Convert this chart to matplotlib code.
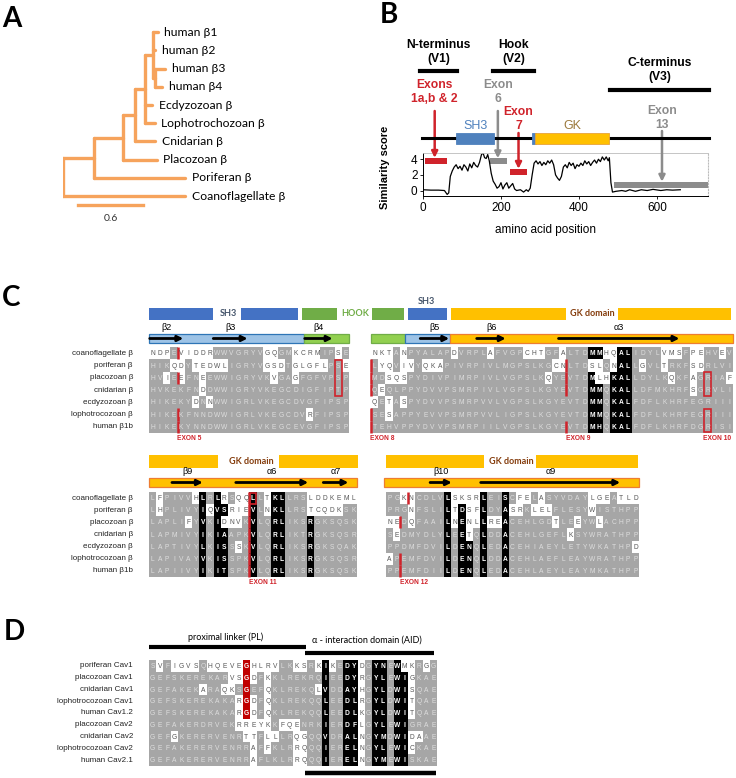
import numpy as np
import matplotlib
matplotlib.use("Agg")
import matplotlib.pyplot as plt
from matplotlib.patches import Rectangle
from matplotlib.colors import ListedColormap

W, H = 736, 778
SANS = ["Liberation Sans", "DejaVu Sans"]
CALI = ["Lato", "DejaVu Sans"]
RED = "#D0232B"
GRAYTXT = "#8C8C8C"

# ---------------- panel A : tree ----------------
TREE_NAMES = ["", "", "", "", "", "", "",
              "human β1", "human β2", "human β3", "human β4",
              "Ecdyzozoan β", "Lophotrochozoan β", "Cnidarian β",
              "Placozoan β", "Poriferan β", "Coanoflagellate β"]
TREE_PARENT = [-1, 0, 1, 2, 3, 4, 5, 5, 5, 6, 6, 4, 4, 3, 2, 1, 0]
TREE_LENGTH = [0, 0.29, 0.27, 0.11, 0.09, 0.075, 0.02, 0.04, 0.02, 0.09,
               0.065, 0.065, 0.09, 0.185, 0.31, 0.84, 1.13]
SCALE_BAR = 0.6

# ---------------- panel B : similarity ----------------
SIM_POS = [0, 20, 40, 55, 62, 66, 70, 75, 80, 85, 90, 95, 100, 105, 110, 115,
           120, 125, 130, 135, 140, 145, 150, 154, 158, 162, 166, 170, 175, 180,
           185, 190, 195, 200, 205, 210, 215, 220, 225, 230, 235, 240, 250, 258,
           265, 270, 275, 280, 285, 290, 295, 300, 305, 310, 315, 320, 325, 330,
           335, 340, 345, 350, 355, 360, 365, 370, 375, 380, 385, 390, 395, 400,
           405, 410, 415, 420, 425, 430, 435, 440, 445, 450, 455, 460, 465, 470,
           475, 478, 482, 486, 495, 510, 520, 530, 545, 560, 575, 590, 610, 625,
           640, 660]
SIM_SCORE = [0.1, 0.05, 0.05, 0.0, -0.5, -0.3, 1.8, 2.5, 3.0, 3.3, 2.8, 3.1, 2.6, 3.3, 3.0, 2.5,
             3.4, 2.9, 3.6, 3.2, 3.0, 3.6, 4.6, 4.8, 4.2, 4.1, 4.6, 3.8, 2.2, 1.2,
             0.8, 0.3, 0.5, 1.0, 0.2, 0.7, 1.0, 0.3, 0.6, 0.9, 0.2, 0.0, 0.1, -0.2,
             0.1, -0.1, 0.3, 2.0, 3.5, 3.8, 3.4, 3.7, 3.2, 3.6, 3.3, 3.8, 3.5, 3.9,
             3.3, 2.0, 1.6, 1.3, 1.8, 3.0, 3.3, 2.9, 3.6, 3.2, 3.5, 2.8, 3.3, 3.1,
             3.5, 3.2, 3.8, 3.4, 3.7, 3.2, 3.6, 3.9, 3.5, 4.0, 3.7, 4.3, 3.9, 4.3,
             3.8, 4.2, 1.0, -0.2, -0.1, 0.0, -0.1, 0.1, -0.1, 0.1, 0.0, 0.15, 0.0, 0.1,
             0.05, 0.1]
PROTEIN_END = 733
DOMAIN_NAMES = ["SH3", "", "GK"]
DOMAIN_START = [85, 279, 288]
DOMAIN_END = [182, 290, 478]
DOMAIN_COLORS = ["#4F81BD", "#4F81BD", "#FFC000"]
REGION_LABELS = ["N-terminus\n(V1)", "Hook\n(V2)", "C-terminus\n(V3)"]
REGION_START = [-8, 179, 480]
REGION_END = [87, 285, 733]
EXON_LABELS = ["Exons\n1a,b & 2", "Exon\n6", "Exon\n7", "Exon\n13"]
EXON_START = [4, 173, 222, 491]
EXON_END = [62, 215, 267, 731]
EXON_LEVEL = [3.8, 3.75, 2.4, 0.75]
EXON_ARROW = [30, 192, 245, 613]
EXON_COLORS = [RED, GRAYTXT, RED, GRAYTXT]

# ---------------- panel C : beta alignments ----------------
BETA_NAMES = ["coanoflagellate β", "poriferan β", "placozoan β", "cnidarian β",
              "ecdyzozoan β", "lophotrocozoan β", "human β1b"]

C1_SEQS = ["NDPEVIDDRWWVGRYVGQGMKCRMIPSE",
           "HIKQDYTEDWLIGRYVGSDTGLGFLPSE",
           "HVIEEFNEEWWIGRYVKVGAGFGFVPSP",
           "HVKEKFNDDWWIGRYVKEGCDIGFIPTP",
           "HIKEKYDNNWWIGRLVKEGCDVGFIPSP",
           "HIKEKFNNDWWIGRLVKEGCDVRFIPSP",
           "HIKEKYNNDWWIGRLVKEGCEVGFIPSP"]
C1_WHITE = [[0, 1, 2, 4, 5, 6, 7, 8, 16, 17, 20, 21, 22, 23, 26],
            [3, 4, 6, 7, 8, 9, 10, 16, 17, 18, 20, 21, 22, 23, 24, 27],
            [2, 4, 7, 17, 20], [7], [6, 8], [22], []]
C1_BLACK = [[], [], [], [], [], [], []]

C2_SEQS = ["NKTANPYALAPDVRPLAFVGPCHTGFALTDMMHQALIDYLVMSFPEHVEV",
           "LYQVIVYQKAPIVRPIVLMGPSLKGCNLTDSLQNALLGVLTRKFSDRLVI",
           "MDSQSPYDIVPIMRPIVLVGPSLKQYEVTDMLHKALLDYLKQKFAGRIAF",
           "QEQLPPYDVVPSMRPIVLVGPSLKGYEVTDMMQKALLDFMKHRFSGRVLI",
           "QETASPYDVVPSMRPVVLVGPSLKGYEVTDMMQKALFDFLKHRFEGRIII",
           "SESAPPYEVVPSMRPVVLIGPSLKGYEVTDMMQKALFDFLKHRFEGRIII",
           "TEHVPPYDVVPSMRPIILVGPSLKGYEVTDMHQKALFDFLKHRFDGRISI"]
C2_WHITE = [[0, 1, 2, 4, 11, 16, 21, 22, 23, 26, 32, 33, 40, 41, 42, 44, 45, 48],
            [1, 2, 4, 5, 7, 8, 9, 25, 26, 30, 31, 33, 37, 40, 44, 45],
            [2, 3, 4, 24, 31, 32, 41, 44, 49], [1, 44], [0, 2, 4], [2], []]
C2_BLACK = [[30, 31, 34, 35], [34, 35], [30, 33, 34, 35], [30, 31, 33, 34, 35],
            [30, 31, 33, 34, 35], [30, 31, 33, 34, 35], [30, 31, 33, 34, 35]]

C3_SEQS = ["LFPIVVHLRLRSQQLLTKLLRSLDDKEML",
           "LHPLIVYIQVSRIEVLNKLLRSTCQDKSK",
           "LAPLIFYVKIDNVKVLQRLIKSRGKSQSK",
           "LAPMIVYIKIAAPKVLQRLIKTRGKSQSR",
           "LAPTIVYLKISSSKVLQRLIKSRGKSQAK",
           "LAPIVAYVKISSPKVLQRLIKSRGKSQSR",
           "LAPIIVYIKITSPKVLQRLIKSRGKSQSK"]
C3_WHITE = [[1, 6, 10, 12, 13, 16, 22, 23, 24, 25, 26, 27, 28],
            [1, 8, 11, 12, 13, 16, 22, 23, 24, 25, 26],
            [5, 10, 11, 12], [], [12], [], []]
C3_BLACK = [[7, 9, 14, 17, 18], [7, 9, 10, 14, 17, 18], [7, 9, 14, 17, 18, 22],
            [7, 9, 10, 14, 17, 18, 22], [7, 9, 10, 14, 17, 18, 22],
            [7, 9, 10, 14, 17, 18, 22], [7, 9, 10, 14, 17, 18, 22]]

C4_SEQS = ["PGKNCDLVLSKSRLEISCFELASYVDAYLGEATLD",
           "PRGNFSLILTDSFLDYASRKLELFLESYWISTHPP",
           "NEDQFAAILNENLLREACEHLGDTLEEYWLACHPP",
           "SEDMYDLYLEETQLDDACEHLGEFLKSYWRATHPP",
           "PPDMFDVILDENQLEDACEHIAEYLETYWKATHPD",
           "APEMFDVILDENQLDDACEHLAEFLEAYWRATHPP",
           "PPEMFDIILDENQLEDACEHLAEYLEAYMKATHPP"]
C4_WHITE = [[2, 3, 9, 10, 11, 12, 18, 19, 21, 28, 29, 30, 32, 33, 34],
            [3, 9, 11, 12, 17, 18, 20, 21, 22, 28],
            [0, 1, 3, 9, 11, 12, 14, 15, 23, 26, 29], [1, 11, 25], [34], [0], []]
C4_BLACK = [[8, 13, 16], [8, 10, 13, 16], [8, 10, 13, 16], [8, 10, 13, 16],
            [8, 10, 11, 13, 16], [8, 10, 11, 13, 16], [8, 10, 11, 13, 16]]

# ---------------- panel D : Cav alignment ----------------
CAV_NAMES = ["poriferan Cav1", "placozoan Cav1", "cnidarian Cav1",
             "lophotrocozoan Cav1", "human Cav1.2", "placozoan Cav2",
             "cnidarian Cav2", "lophotrocozoan Cav2", "human Cav2.1"]
D_SEQS = ["SVFIGVSQHQEVEGHLRVLKKSRKIKEDYDGYNEWMKRGG",
          "GEFSKEREKARVSGDFKKLREKRQIEEDYRGYLEWIGKAE",
          "GEFAKEKARAQKSGEFQKLREKQLVDDAYHGYLDWISQAE",
          "GEFSKEREKAKARGDFQKLREKQQLEEDLRGYLDWITQAE",
          "GEFSKEREKAKARGDFQKLREKQQLEEDLKGYLDWITQAE",
          "GEFAKERDRVEKRREYKKFQENRKIERDFLGYLEWIGRAE",
          "GEFGKERERVENRTTFLLLRQGQQVDRALNGYMDWIDAAE",
          "GEFAKERERVENRRAFFKLRRQQQIERELNGYLEWICKAE",
          "GEFAKERERVENRRAFLKLRRQQQIERELNGYMEWISKAE"]
D_WHITE = [[1, 3, 4, 5, 6, 8, 9, 10, 11, 12, 14, 15, 16, 17, 20, 21, 23, 25, 29, 35, 36, 38],
           [11, 12, 14, 16, 29, 36],
           [7, 10, 11, 16, 23, 29, 36],
           [12, 14, 16, 29, 36],
           [12, 14, 16, 29, 36],
           [12, 13, 14, 15, 16, 18, 19, 20, 29],
           [3, 13, 14, 16, 17, 20, 21, 29, 36, 37],
           [14, 16, 20, 21, 29, 36],
           [14, 20, 21, 29]]
D_BLACK = [[24, 27, 28, 31, 32, 34]] + [[24, 27, 28, 31, 32, 34, 35]] * 8
D_RED = [(13, 0, 4)]

CELL_CMAP = ListedColormap(["white", "#A6A6A6", "black", "#C00000"])
TXT_COL = {0: "#555555", 1: "#DEDEDE", 2: "white", 3: "white"}

fig = plt.figure(figsize=(W / 100, H / 100), dpi=100)


def px_axes(x0, y0, x1, y1):
    return fig.add_axes([x0 / W, 1 - y1 / H, (x1 - x0) / W, (y1 - y0) / H])


def panel_letter(x, y, s):
    fig.text(x / W, 1 - y / H, s, fontsize=20, fontweight="bold",
             family=CALI, ha="left", va="center")


# ---- A ----
panel_letter(2, 19, "A")
ax_a = px_axes(63, 23, 225, 229)
ax_a.set_xlim(0, 1.5)
ax_a.set_ylim(10.8, -0.5)
ax_a.axis("off")
n = len(TREE_NAMES)
nx = np.zeros(n)
ny = np.zeros(n)
children = {i: [] for i in range(n)}
for i in range(1, n):
    nx[i] = nx[TREE_PARENT[i]] + TREE_LENGTH[i]
    children[TREE_PARENT[i]].append(i)
tips = [i for i in range(n) if not children[i]]
for k, t in enumerate(tips):
    ny[t] = k
for i in reversed(range(n)):
    if children[i]:
        ys = [ny[c] for c in children[i]]
        ny[i] = (min(ys) + max(ys)) / 2
tree_col = "#F6A35C"
for i in range(n):
    if i > 0:
        ax_a.plot([nx[TREE_PARENT[i]], nx[i]], [ny[i], ny[i]], color=tree_col,
                  lw=2.4, solid_capstyle="round")
    if children[i]:
        ys = [ny[c] for c in children[i]]
        ax_a.plot([nx[i], nx[i]], [min(ys), max(ys)], color=tree_col, lw=2.4,
                  solid_capstyle="round")
for t in tips:
    ax_a.text(nx[t] + 0.06, ny[t], TREE_NAMES[t], fontsize=8.7, family=CALI,
              va="center", ha="left")
ax_a.plot([0.14, 0.14 + SCALE_BAR], [9.5, 9.5], color=tree_col, lw=2.4)
ax_a.text(0.14 + SCALE_BAR / 2, 10.2, f"{SCALE_BAR}", fontsize=7.5, family=CALI,
          ha="center", va="center", color="#333333")

# ---- B ----
panel_letter(380, 15, "B")
ax_b = px_axes(423, 153, 708, 196)
ax_b.plot(SIM_POS, SIM_SCORE, color="black", lw=0.9)
ax_b.set_xlim(0, 731)
ax_b.set_ylim(-0.7, 4.8)
ax_b.set_xticks([0, 200, 400, 600])
ax_b.set_yticks([0, 2, 4])
ax_b.tick_params(labelsize=8.5, length=2, width=0.6, pad=2)
for lab in ax_b.get_xticklabels() + ax_b.get_yticklabels():
    lab.set_family(SANS)
ax_b.spines["top"].set_color("#BBBBBB")
ax_b.spines["top"].set_linewidth(0.6)
ax_b.spines["right"].set_color("#BBBBBB")
ax_b.spines["right"].set_linestyle(":")
ax_b.spines["left"].set_linewidth(0.7)
ax_b.spines["bottom"].set_linewidth(0.7)
tb = ax_b.get_xaxis_transform()


def fy(py):
    return (196 - py) / 43


for s, e, lv, c in zip(EXON_START, EXON_END, EXON_LEVEL, EXON_COLORS):
    ax_b.barh(lv, e - s, left=s, height=0.75, color=c)
label_y = [92, 92, 119, 118]
arrow_from = [111, 111, 133, 131]
for lab, ax_x, lv, c, ly, af in zip(EXON_LABELS, EXON_ARROW, EXON_LEVEL,
                                    EXON_COLORS, label_y, arrow_from):
    ax_b.annotate("", xy=(ax_x, lv + 0.38), xycoords="data", xytext=(ax_x, fy(af)),
                  textcoords=tb, annotation_clip=False,
                  arrowprops=dict(arrowstyle="-|>", color=c, lw=1.8,
                                  mutation_scale=9, shrinkA=0, shrinkB=0))
    ax_b.text(ax_x, fy(ly), lab, transform=tb, ha="center", va="center",
              color=c, fontsize=8.7, fontweight="bold", family=SANS,
              linespacing=1.15)
ax_b.plot([-3, PROTEIN_END], [fy(138)] * 2, transform=tb, clip_on=False,
          color="black", lw=2.2, zorder=3)
for name, s, e, c in zip(DOMAIN_NAMES, DOMAIN_START, DOMAIN_END, DOMAIN_COLORS):
    ax_b.add_patch(Rectangle((s, fy(144)), e - s, fy(133) - fy(144), transform=tb,
                             clip_on=False, facecolor=c,
                             edgecolor="#E8A33A" if c == "#FFC000" else c,
                             lw=0.6, zorder=4))
    if name:
        ax_b.text((s + e) / 2, fy(126), name, transform=tb, ha="center", va="center",
                  fontsize=9, family=SANS,
                  color="#4F81BD" if name == "SH3" else "#9C7A3C")
region_y = [52, 52, 70]
bar_y = [71, 71, 90]
for lab, s, e, ly, by in zip(REGION_LABELS, REGION_START, REGION_END, region_y, bar_y):
    ax_b.plot([s, e], [fy(by)] * 2, transform=tb, clip_on=False, color="black", lw=3)
    ax_b.text((s + e) / 2, fy(ly), lab, transform=tb, ha="center", va="center",
              fontsize=8.7, fontweight="bold", family=SANS, linespacing=1.25)
ax_b.text(0.43, fy(230), "amino acid position", transform=ax_b.transAxes,
          ha="center", va="center", fontsize=8.5, family=SANS)
ax_b.text(-0.133, 0.67, "Similarity score", transform=ax_b.transAxes, rotation=90,
          ha="center", va="center", fontsize=8, fontweight="bold", family=SANS)


# ---- alignment helper ----
def align_block(box, names, seqs, whites, blacks, reds=()):
    x0, y0, x1, y1 = box
    nrow, ncol = len(seqs), len(seqs[0])
    ax = px_axes(x0, y0, x1, y1)
    ax.set_xlim(0, ncol)
    ax.set_ylim(nrow, 0)
    ax.axis("off")
    code = np.ones((nrow, ncol))
    for r in range(nrow):
        code[r, whites[r]] = 0
        code[r, blacks[r]] = 2
    for c, r0, r1 in reds:
        code[r0:r1 + 1, c] = 3
    ax.pcolormesh(np.arange(ncol + 1), np.arange(nrow + 1), code, cmap=CELL_CMAP,
                  vmin=-0.5, vmax=3.5)
    for r, s in enumerate(seqs):
        for c, ch in enumerate(s):
            k = int(code[r, c])
            ax.text(c + 0.5, r + 0.55, ch, ha="center", va="center", fontsize=4.8,
                    family=SANS, color=TXT_COL[k],
                    fontweight="bold" if k >= 2 else "normal")
    cw = (x1 - x0) / ncol
    rh = (y1 - y0) / nrow
    if names:
        for r, nm in enumerate(names):
            ax.text((133 - x0) / cw, r + 0.5, nm, ha="right", va="center",
                    fontsize=5.8, family=SANS, color="#222222", clip_on=False)

    def ry(py):
        return (py - y0) / rh
    return ax, ry


def header(ax, ry, dom_y, doms, dom_txt, ss_y, ss_bars, ss_arrows):
    for s, e, c in doms:
        ax.add_patch(Rectangle((s, ry(dom_y[0])), e - s, ry(dom_y[1]) - ry(dom_y[0]),
                               facecolor=c, edgecolor="none", clip_on=False))
    for lab, cx, py, c in dom_txt:
        ax.text(cx, ry(py), lab, ha="center", va="center", fontsize=6.5,
                fontweight="bold", color=c, family=CALI, clip_on=False)
    for s, e, fc, ec in ss_bars:
        ax.add_patch(Rectangle((s, ry(ss_y[0])), e - s, ry(ss_y[1]) - ry(ss_y[0]),
                               facecolor=fc, edgecolor=ec, lw=0.9, clip_on=False))
    ya = ry((ss_y[0] + ss_y[1]) / 2)
    for lab, s, e in ss_arrows:
        ax.annotate("", xy=(e, ya), xytext=(s, ya), annotation_clip=False,
                    arrowprops=dict(arrowstyle="-|>", color="black", lw=2,
                                    mutation_scale=8, shrinkA=0, shrinkB=0))
        ax.text((s + e) / 2, ry(ss_y[0] - 6.5), lab, ha="center", va="center",
                fontsize=6.5, family=SANS, clip_on=False)


def exons(ax, nrow, marks, label_row):
    for c, rows, lab in marks:
        for r in rows:
            ax.plot([c, c], [r, r + 1], color=RED, lw=1.8, solid_capstyle="butt",
                    clip_on=False)
        if lab:
            ax.text(c - 0.1, label_row, lab, ha="left", va="center", fontsize=4.8,
                    fontweight="bold", color=RED, family=SANS, clip_on=False)


def red_boxes(ax, boxes):
    for c, r0, r1 in boxes:
        ax.add_patch(Rectangle((c + 0.05, r0 + 0.05), 0.9, r1 - r0 + 0.9, fill=False,
                               edgecolor=RED, lw=1.2, clip_on=False))


BLUE, LBLUE, EBLUE = "#4472C4", "#9DC3E6", "#2E75B6"
GREEN, LGREEN = "#70AD47", "#92D050"
ORANGE, EORANGE = "#FFC000", "#ED7D31"
DTXT, BTXT = "#44546A", "#843C0C"

panel_letter(2, 298, "C")

ax1, ry1 = align_block((149, 347, 349, 433), BETA_NAMES, C1_SEQS, C1_WHITE, C1_BLACK)
header(ax1, ry1, (308, 320),
       [(0, 9, BLUE), (12.9, 20.9, BLUE), (21.4, 26.3, GREEN)],
       [("SH3", 11.1, 314, DTXT), ("HOOK", 28.9, 314, GREEN)],
       (334, 343), [(0, 21.7, LBLUE, EBLUE), (21.7, 28, LGREEN, GREEN)],
       [("β2", 0.1, 4.8), ("β3", 9, 13.8), ("β4", 21.8, 25.7)])
exons(ax1, 7, [(4, [0, 2, 5, 6], "EXON 5")], ry1(438))
red_boxes(ax1, [(26, 1, 3)])

ax2, ry2 = align_block((371, 347, 733, 433), None, C2_SEQS, C2_WHITE, C2_BLACK)
header(ax2, ry2, (308, 320),
       [(0.1, 4.6, GREEN), (5.1, 10.5, BLUE), (11.05, 26.9, ORANGE), (34.1, 49.7, ORANGE)],
       [("SH3", 7.6, 301, DTXT), ("GK domain", 30.5, 314, BTXT)],
       (334, 343), [(0, 4.7, LGREEN, GREEN), (4.7, 10.9, LBLUE, EBLUE),
                    (10.9, 50, ORANGE, EORANGE)],
       [("β5", 6.8, 10.8), ("β6", 14.6, 18.6), ("α3", 25.9, 42.6)])
exons(ax2, 7, [(0, [1, 2, 3, 5, 6], "EXON 8"), (27, [1, 2, 3, 6], "EXON 9"),
               (46, [], "EXON 10")], ry2(438))
red_boxes(ax2, [(46, 2, 3), (46, 5, 6)])

ax3, ry3 = align_block((149, 492, 357, 577), BETA_NAMES, C3_SEQS, C3_WHITE, C3_BLACK)
header(ax3, ry3, (455, 468),
       [(0, 9.6, ORANGE), (18.1, 29.2, ORANGE)],
       [("GK domain", 14.2, 462, BTXT)],
       (478, 487), [(0, 29, ORANGE, EORANGE)],
       [("β9", 3.2, 7.5), ("α6", 12.1, 22.2), ("α7", 24.3, 27.8)])
exons(ax3, 7, [(14, list(range(7)), "EXON 11")], ry3(583))
red_boxes(ax3, [(14, 0, 0)])

ax4, ry4 = align_block((386, 492, 639, 577), None, C4_SEQS, C4_WHITE, C4_BLACK)
header(ax4, ry4, (455, 468),
       [(0, 13.6, ORANGE), (20.7, 34.9, ORANGE)],
       [("GK domain", 17.3, 462, BTXT)],
       (478, 487), [(-0.3, 35, ORANGE, EORANGE)],
       [("β10", 6.1, 9.1), ("α9", 13.1, 32.4)])
exons(ax4, 7, [(3, [0], None), (2, [2, 5, 6], "EXON 12")], ry4(583))

# ---- D ----
panel_letter(4, 632, "D")
axd, ryd = align_block((149, 660, 437, 766), CAV_NAMES, D_SEQS, D_WHITE, D_BLACK, D_RED)
axd.plot([0, 21.8], [ryd(647)] * 2, color="black", lw=3, clip_on=False,
         solid_capstyle="butt")
axd.plot([21.6, 39.6], [ryd(653)] * 2, color="black", lw=3, clip_on=False,
         solid_capstyle="butt")
axd.plot([21.7, 39.9], [ryd(773)] * 2, color="black", lw=3.2, clip_on=False,
         solid_capstyle="butt")
axd.text(10.7, ryd(637), "proximal linker (PL)", ha="center", va="center",
         fontsize=6.5, family=CALI, clip_on=False)
axd.text(30.2, ryd(640), "α - interaction domain (AID)", ha="center", va="center",
         fontsize=6.5, family=CALI, clip_on=False)

fig.savefig("out.png", dpi=100)
